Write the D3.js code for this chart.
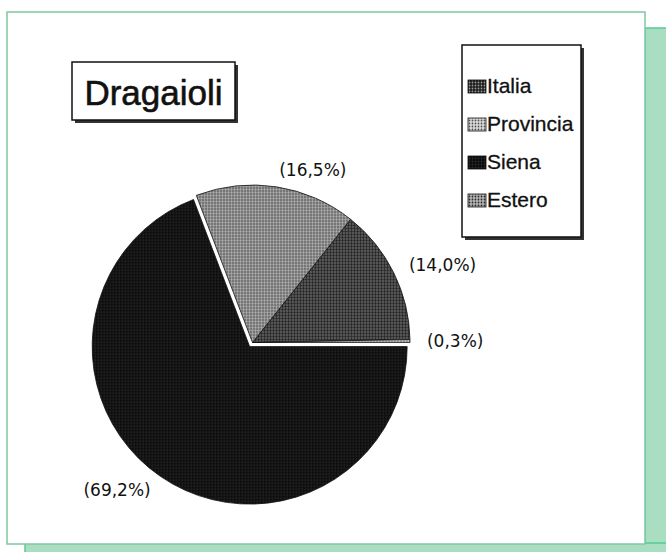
<!DOCTYPE html>
<html>
<head>
<meta charset="utf-8">
<script src="https://cdn.jsdelivr.net/npm/d3@7"></script>
<style>
  html, body { margin: 0; padding: 0; background: #ffffff; }
  svg { display: block; }
</style>
</head>
<body>
<script>
// Provenienza dei dragaioli
const chartTitle = "Dragaioli";
const categories = ["Italia", "Provincia", "Siena", "Estero"];
const shares = [14.0, 0.3, 69.2, 16.5];
const explodedSlices = ["Siena"];

const W = 666, H = 552;
const svg = d3.select("body").append("svg")
  .attr("width", W).attr("height", H);

// halftone-like fills, one per category
const fills = {
  "Italia":    { bg: "#1c1c1c", dot: "#9a9a9a" },
  "Provincia": { bg: "#dcdcdc", dot: "#505050" },
  "Siena":     { bg: "#0a0a0a", dot: "#2e2e2e" },
  "Estero":    { bg: "#b4b4b4", dot: "#2a2a2a" }
};
const defs = svg.append("defs");
categories.forEach((c, i) => {
  const p = defs.append("pattern")
    .attr("id", "pat" + i)
    .attr("patternUnits", "userSpaceOnUse")
    .attr("width", 3).attr("height", 3);
  p.append("rect").attr("width", 3).attr("height", 3).attr("fill", fills[c].bg);
  p.append("circle").attr("cx", 1.5).attr("cy", 1.5).attr("r", 0.9).attr("fill", fills[c].dot);
});
const fillOf = d3.scaleOrdinal().domain(categories).range(categories.map((c, i) => `url(#pat${i})`));

// page frame with its green drop shadow
svg.append("rect").attr("x", 645).attr("y", 28).attr("width", 30).attr("height", 530)
  .attr("fill", "#a9dec3").attr("stroke", "#55cc95").attr("stroke-width", 1.5);
svg.append("rect").attr("x", 25).attr("y", 543).attr("width", 650).attr("height", 20)
  .attr("fill", "#a9dec3").attr("stroke", "#55cc95").attr("stroke-width", 1.5);
svg.append("rect").attr("x", 7).attr("y", 12).attr("width", 638).attr("height", 532)
  .attr("fill", "#ffffff").attr("stroke", "#7fc7a3").attr("stroke-width", 1.5);

// title box
const tb = { x: 72, y: 62, w: 163, h: 58 };
svg.append("rect").attr("x", tb.x + 3).attr("y", tb.y + 3).attr("width", tb.w).attr("height", tb.h)
  .attr("fill", "#333");
svg.append("rect").attr("x", tb.x).attr("y", tb.y).attr("width", tb.w).attr("height", tb.h)
  .attr("fill", "#fff").attr("stroke", "#111").attr("stroke-width", 1.5);
svg.append("text")
  .attr("x", tb.x + tb.w / 2).attr("y", tb.y + 43)
  .attr("text-anchor", "middle")
  .attr("font-family", "Liberation Sans, Arial, sans-serif")
  .attr("font-size", 35).attr("fill", "#111")
  .attr("stroke", "#111").attr("stroke-width", 0.6)
  .text(chartTitle);

// legend
const lb = { x: 462, y: 45, w: 119, h: 192 };
svg.append("rect").attr("x", lb.x + 3).attr("y", lb.y + 3).attr("width", lb.w).attr("height", lb.h)
  .attr("fill", "#333");
svg.append("rect").attr("x", lb.x).attr("y", lb.y).attr("width", lb.w).attr("height", lb.h)
  .attr("fill", "#fff").attr("stroke", "#111").attr("stroke-width", 1.5);
const rowY = d3.scalePoint().domain(categories).range([93, 207]);
const legendRows = svg.append("g").selectAll("g").data(categories).join("g")
  .attr("transform", d => `translate(${lb.x + 6},${rowY(d)})`);
legendRows.append("rect")
  .attr("x", 0).attr("y", -13).attr("width", 18).attr("height", 13)
  .attr("fill", d => fillOf(d)).attr("stroke", "#111").attr("stroke-width", 0.8);
legendRows.append("text")
  .attr("x", 19).attr("y", 0)
  .attr("font-family", "Liberation Sans, Arial, sans-serif")
  .attr("font-size", 21).attr("fill", "#111")
  .attr("stroke", "#111").attr("stroke-width", 0.3)
  .text(d => d);

// pie
const cx = 252.5, cy = 342.5, R = 157.5, explode = 5, labelPad = 17;
const pie = d3.pie().sort(null).value(d => d.v)
  .startAngle(38.5 * Math.PI / 180).endAngle(38.5 * Math.PI / 180 + 2 * Math.PI);
const arcs = pie(categories.map((c, i) => ({ c, v: shares[i] })));
const arc = d3.arc().innerRadius(0).outerRadius(R);
const mid = d => (d.startAngle + d.endAngle) / 2;
const offset = d => explodedSlices.includes(d.data.c)
  ? [explode * Math.sin(mid(d)), -explode * Math.cos(mid(d))] : [0, 0];

const pieG = svg.append("g").attr("transform", `translate(${cx},${cy})`);
pieG.selectAll("path").data(arcs).join("path")
  .attr("transform", d => `translate(${offset(d)})`)
  .attr("d", arc)
  .attr("fill", d => fillOf(d.data.c))
  .attr("stroke", "#111").attr("stroke-width", 0.8).attr("stroke-linejoin", "round");

const fmt = v => "(" + v.toFixed(1).replace(".", ",") + "%)";
pieG.selectAll("text").data(arcs).join("text")
  .attr("x", d => offset(d)[0] + (R + labelPad) * Math.sin(mid(d)))
  .attr("y", d => offset(d)[1] - (R + labelPad) * Math.cos(mid(d)))
  .attr("text-anchor", d => Math.sin(mid(d)) >= 0 ? "start" : "end")
  .attr("dominant-baseline", "central")
  .attr("font-family", "DejaVu Sans, Verdana, sans-serif")
  .attr("font-size", 17).attr("fill", "#111")
  .text(d => fmt(d.data.v));
</script>
</body>
</html>
